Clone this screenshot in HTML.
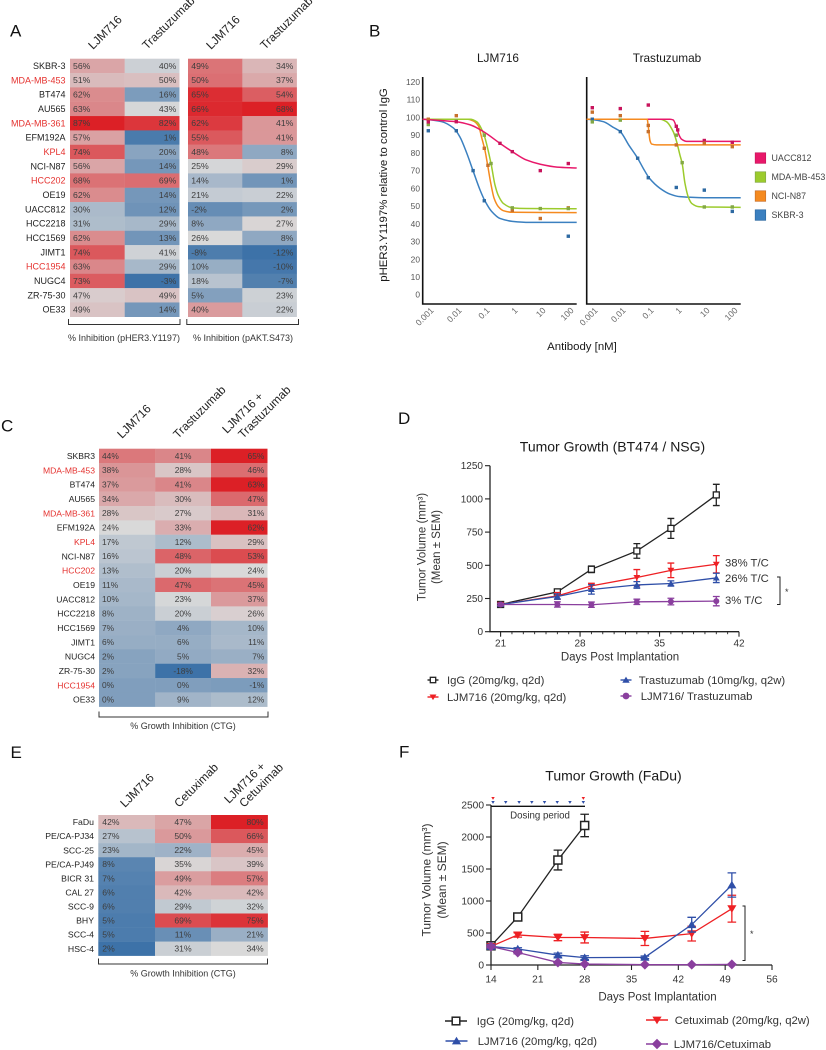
<!DOCTYPE html>
<html lang="en">
<head>
<meta charset="utf-8">
<title>LJM716 and antibody combination figure</title>
<style>
html,body{margin:0;padding:0;background:#fff;width:826px;height:1050px;overflow:hidden}
svg{display:block;font-family:"Liberation Sans",Arial,sans-serif}
text{fill:#222}
.letter{font-size:17px;fill:#111}
.hdr{font-size:11.8px;fill:#222}
.cap{font-size:9px;fill:#333;text-anchor:middle}
.ttl{font-size:11.4px;fill:#1a1a1a;text-anchor:middle}
.big{font-size:14px;fill:#1a1a1a;text-anchor:middle}
.lab{font-size:11.5px;fill:#333;text-anchor:middle}
.leg{font-size:11.3px;fill:#333}
</style>
</head>
<body>
<svg id="figure" xmlns="http://www.w3.org/2000/svg" width="826" height="1050" viewBox="0 0 826 1050">
  <rect width="826" height="1050" fill="#fff"/>

  <text class="letter" x="10" y="36.5">A</text>
  <text class="letter" x="369" y="36.5">B</text>
  <text class="letter" x="1" y="431.5">C</text>
  <text class="letter" x="398" y="424">D</text>
  <text class="letter" x="10.5" y="758">E</text>
  <text class="letter" x="399" y="757.5">F</text>

  <g id="panel-a">
    <text class="hdr" transform="translate(93,50) rotate(-45)">LJM716</text>
    <text class="hdr" transform="translate(147,50) rotate(-45)">Trastuzumab</text>
    <text class="hdr" transform="translate(211,50) rotate(-45)">LJM716</text>
    <text class="hdr" transform="translate(265,50) rotate(-45)">Trastuzumab</text>
    <path d="M68.5 319V324.5H180V319" fill="none" stroke="#333" stroke-width="1"/>
    <path d="M186.8 319V324.5H298.5V319" fill="none" stroke="#333" stroke-width="1"/>
    <text class="cap" x="124" y="340.8">% Inhibition (pHER3.Y1197)</text>
    <text class="cap" x="243" y="340.8">% Inhibition (pAKT.S473)</text>
  </g>

  <g id="panel-b">
    <text class="ttl" x="498" y="62" style="font-size:11.8px">LJM716</text>
    <text class="ttl" x="667" y="62" style="font-size:11.8px">Trastuzumab</text>
    <text class="ttl" transform="translate(387,185) rotate(-90)">pHER3.Y1197% relative to control IgG</text>
    <text class="ttl" x="582" y="350">Antibody [nM]</text>
  </g>

  <g id="panel-c">
    <text class="hdr" transform="translate(122,439) rotate(-45)">LJM716</text>
    <text class="hdr" transform="translate(178,439) rotate(-45)">Trastuzumab</text>
    <text class="hdr" transform="translate(227,434) rotate(-45)">LJM716 +</text>
    <text class="hdr" transform="translate(243,439) rotate(-45)">Trastuzumab</text>
    <path d="M99 711.5V717H268V711.5" fill="none" stroke="#333" stroke-width="1"/>
    <text class="cap" x="183" y="729.2">% Growth Inhibition (CTG)</text>
  </g>

  <g id="panel-d">
    <text class="big" x="612.5" y="451.5">Tumor Growth (BT474 / NSG)</text>
    <text class="lab" transform="translate(425.5,547) rotate(-90)">Tumor Volume (mm³)</text>
    <text class="lab" transform="translate(440,547) rotate(-90)">(Mean ± SEM)</text>
    <text class="lab" x="620" y="660.5">Days Post Implantation</text>
    <text class="leg" x="725" y="566.5">38% T/C</text>
    <text class="leg" x="725" y="582">26% T/C</text>
    <text class="leg" x="725" y="604">3% T/C</text>
    <path d="M777 577H780V604.5H777" fill="none" stroke="#222" stroke-width="1"/>
    <text class="leg" x="785" y="595" style="font-size:9px">*</text>
  </g>

  <g id="panel-e">
    <text class="hdr" transform="translate(125,808) rotate(-45)">LJM716</text>
    <text class="hdr" transform="translate(179,808) rotate(-45)">Cetuximab</text>
    <text class="hdr" transform="translate(229,804) rotate(-45)">LJM716 +</text>
    <text class="hdr" transform="translate(244,808) rotate(-45)">Cetuximab</text>
    <path d="M98.5 958.5V964H267.5V958.5" fill="none" stroke="#333" stroke-width="1"/>
    <text class="cap" x="183" y="976.7">% Growth Inhibition (CTG)</text>
  </g>

  <g id="panel-f">
    <text class="big" x="613.5" y="780.5">Tumor Growth (FaDu)</text>
    <text class="lab" transform="translate(430.5,880) rotate(-90)" style="font-size:12px">Tumor Volume (mm³)</text>
    <text class="lab" transform="translate(446,880) rotate(-90)" style="font-size:12px">(Mean ± SEM)</text>
    <text class="lab" x="657.5" y="1000.5">Days Post Implantation</text>
    <text class="lab" x="540" y="818.5" style="font-size:9.7px">Dosing period</text>
    <path d="M742.5 906H745V960.5H742.5" fill="none" stroke="#222" stroke-width="1"/>
    <text class="leg" x="750" y="937" style="font-size:9px">*</text>
  </g>
</svg>

<script>
/* ---------- Panel A data ---------- */
const panelARows = ['SKBR-3','MDA-MB-453','BT474','AU565','MDA-MB-361','EFM192A','KPL4','NCI-N87','HCC202','OE19','UACC812','HCC2218','HCC1569','JIMT1','HCC1954','NUGC4','ZR-75-30','OE33'];
const panelAHighlighted = ['MDA-MB-453','MDA-MB-361','KPL4','HCC202','HCC1954'];
const panelAHer3Ljm716 = [56,51,62,63,87,57,74,56,68,62,30,31,62,74,63,73,47,49];
const panelAHer3Trastuzumab = [40,50,16,43,82,1,20,14,69,14,12,29,13,41,29,-3,49,14];
const panelAAktLjm716 = [49,50,65,66,62,55,48,25,14,21,-2,8,26,-8,10,18,5,40];
const panelAAktTrastuzumab = [34,37,54,68,41,41,8,29,1,22,2,27,8,-12,-10,-7,23,22];
const panelAHer3Domain = [-3,44,87];
const panelAAktDomain = [-12,26,68];

/* ---------- Panel B data ---------- */
const doseTickLabels = ['0.001','0.01','0.1','1','10','100'];
const doseTickLogs = [-3,-2,-1,0,1,2];
const responseTicks = [0,10,20,30,40,50,60,70,80,90,100,110,120];
const legendCellLines = ['UACC812','MDA-MB-453','NCI-N87','SKBR-3'];

const ljmUaccCurveLog = [-3.2,-3,-2.5,-2,-1.5,-1.03,-0.44,0,0.5,1,1.6,2.3];
const ljmUaccCurveVal = [99,98.8,98.2,97.6,95.8,92,85.4,80.7,76,73.6,72,71.5];
const ljmMdaCurveLog = [-3.2,-2,-1.5,-1.27,-1.03,-0.76,-0.62,-0.5,-0.32,0,0.5,2.3];
const ljmMdaCurveVal = [99,99,99,97.6,91,74,62,56,51.5,49,48.6,48.5];
const ljmNciCurveLog = [-3.2,-2,-1.6,-1.39,-1.2,-1.1,-0.98,-0.89,-0.77,-0.65,-0.5,-0.32,0,2.3];
const ljmNciCurveVal = [99,99,99,98,95,89,81.7,74,63,54.4,49.7,47.4,46.5,46.3];
const ljmSkbrCurveLog = [-3.2,-3,-2.52,-2.1,-1.87,-1.63,-1.39,-1.15,-0.98,-0.74,-0.44,0,0.6,2.3];
const ljmSkbrCurveVal = [99,98.8,97.6,94,89,80,69.4,59,53,47,43,41.4,40.8,40.8];

const traUaccCurveLog = [-3.2,-1,-0.23,-0.11,0,0.1,0.19,0.37,2.3];
const traUaccCurveVal = [99,99,99,98.6,94.8,90,87.7,86.5,86.5];
const traMdaCurveLog = [-3.2,-1,-0.58,-0.35,-0.11,0,0.13,0.21,0.31,0.43,0.55,0.79,1,2.3];
const traMdaCurveVal = [99,99,99,97.6,92,87,78.8,74,62.8,55,51.5,49.7,49.5,49.3];
const traNciCurveLog = [-3.2,-1.04,-1,-0.94,-0.88,-0.7,2.3];
const traNciCurveVal = [99,99,94.8,87,85,84.5,84.5];
const traSkbrCurveLog = [-3.2,-3,-2.6,-2.25,-2,-1.7,-1.38,-1.18,-0.96,-0.58,-0.23,0.13,1,2.3];
const traSkbrCurveVal = [99,98.8,97.6,94.4,92,84.5,77,71.3,65.7,60,56.8,55.3,54.7,54.7];

const ljmUaccDotLog = [-3,-2,-0.44,0,1,2];
const ljmUaccDotVal = [97.5,97.6,85.4,80.7,70,74];
const ljmMdaDotLog = [-3,-2,-1,-0.76,0,1,2];
const ljmMdaDotVal = [96,98,90,74,49,48.6,48.6];
const ljmNciDotLog = [-3,-2,-1,-0.87,0,1,2];
const ljmNciDotVal = [99,101,82.6,73,47.6,43,49];
const ljmSkbrDotLog = [-3,-2,-1.4,-1,2];
const ljmSkbrDotVal = [92.5,92.5,70,53,33];

const traUaccDotLog = [-3,-2,-1,0,0.05,1,2];
const traUaccDotVal = [105.5,105,107,95,93,87,86];
const traMdaDotLog = [-3,-2,0,0.21,1,2];
const traMdaDotVal = [97.5,98.5,90,74.5,49.5,49.5];
const traNciDotLog = [-3,-2,-1,-1,0,1,2];
const traNciDotVal = [103,101,95.5,92,84.5,85.5,83.5];
const traSkbrDotLog = [-3,-2,-1.38,-1,0,1,2];
const traSkbrDotVal = [99,92,77,66,60.5,59,47];

/* ---------- Panel C data ---------- */
const panelCRows = ['SKBR3','MDA-MB-453','BT474','AU565','MDA-MB-361','EFM192A','KPL4','NCI-N87','HCC202','OE19','UACC812','HCC2218','HCC1569','JIMT1','NUGC4','ZR-75-30','HCC1954','OE33'];
const panelCHighlighted = ['MDA-MB-453','MDA-MB-361','KPL4','HCC202','HCC1954'];
const panelCLjm716 = [44,38,37,34,28,24,17,16,13,11,10,8,7,6,2,2,0,0];
const panelCTrastuzumab = [41,28,41,30,27,33,12,48,20,47,23,20,4,6,5,-18,0,9];
const panelCCombo = [65,46,63,47,31,62,29,53,24,45,37,26,10,11,7,32,-1,12];
const panelCDomain = [-18,24,62];

/* ---------- Panel D data ---------- */
const panelDDays = [21,26,29,33,36,40];
const panelDIgg = [205,300,470,608,778,1030];
const panelDIggErr = [10,20,25,55,75,80];
const panelDLjm716 = [205,270,345,408,462,508];
const panelDLjm716Err = [8,25,20,60,55,65];
const panelDTrastuzumab = [205,265,318,352,363,405];
const panelDTrastuzumabErr = [8,20,35,25,20,35];
const panelDCombo = [205,205,203,225,227,230];
const panelDComboErr = [8,20,20,20,25,35];
const panelDYTicks = [0,250,500,750,1000,1250];
const panelDXTicks = [21,28,35,42];
const panelDXMinor = [22,23,24,25,26,27,29,30,31,32,33,34,36,37,38,39,40,41];

/* ---------- Panel E data ---------- */
const panelERows = ['FaDu','PE/CA-PJ34','SCC-25','PE/CA-PJ49','BICR 31','CAL 27','SCC-9','BHY','SCC-4','HSC-4'];
const panelELjm716 = [42,27,23,8,7,6,6,5,5,2];
const panelECetuximab = [47,50,22,35,49,42,29,69,11,31];
const panelECombo = [80,66,45,39,57,42,32,75,21,34];
const panelEDomain = [2,34,80];

/* ---------- Panel F data ---------- */
const panelFIggDays = [14,18,24,28];
const panelFIgg = [300,750,1640,2180];
const panelFIggErr = [30,50,155,175];
const panelFDays = [14,18,24,28,37,44,50];
const panelFLjm716 = [290,250,155,115,120,630,1250];
const panelFLjm716Err = [30,20,30,30,20,115,190];
const panelFCetuximab = [290,470,430,430,415,490,880];
const panelFCetuximabErr = [25,35,50,85,110,115,210];
const panelFCombo = [290,195,40,15,5,5,10];
const panelFComboErr = [20,20,15,10,5,5,5];
const panelFYTicks = [0,500,1000,1500,2000,2500];
const panelFXTicks = [14,21,28,35,42,49,56];
const panelFBlueDoseDays = [14.3,16.2,18.2,20.1,22,23.9,25.8,27.8];
const panelFRedDoseDays = [14.3,27.8];

/* ---------- helpers ---------- */
const SVGNS = 'http://www.w3.org/2000/svg';
function make(tag, parent, props, txt) {
  const n = document.createElementNS(SVGNS, tag);
  for (const k in props) n.setAttribute(k, props[k]);
  if (txt !== undefined) n.textContent = txt;
  parent.appendChild(n);
  return n;
}
function slug(s) { return String(s).toLowerCase().replace(/[^a-z0-9]+/g, '-').replace(/^-|-$/g, ''); }
function scale(d0, d1, r0, r1) { return v => r0 + (v - d0) * (r1 - r0) / (d1 - d0); }

const COOL = [61,114,168], MID = [217,217,217], HOT = [220,32,38];
function heatColor(v, domain) {
  const lo = domain[0], mi = domain[1], hi = domain[2];
  const a = v < mi ? COOL : HOT;
  let t = v < mi ? (mi - v) / (mi - lo) : (v - mi) / (hi - mi);
  t = Math.max(0, Math.min(1, t));
  return 'rgb(' + MID.map((m, i) => Math.round(m + (a[i] - m) * t)).join(',') + ')';
}

function drawHeatmap(group, prefix, rows, highlighted, columns, box) {
  const bandY = scale(0, rows.length, box.top, box.bottom);
  if (box.labelX !== null) {
    rows.forEach((name, r) => {
      const lab = make('text', group, {x: box.labelX, y: bandY(r + 0.5) + 3.1, 'text-anchor': 'end',
        style: 'font-size:' + box.labelSize + 'px;fill:' + (highlighted.includes(name) ? '#e5322f' : '#222')}, name);
      
      
    });
  }
  columns.forEach(col => {
    const colX = scale(0, 1, col.x0, col.x1);
    col.values.forEach((v, r) => {
      const cell = make('rect', group, {x: colX(0), y: bandY(r), width: colX(1) - colX(0) + 0.2, height: bandY(r + 1) - bandY(r) + 0.2, fill: heatColor(v, col.domain)});
      
      
      const anchor = col.align === 'left' ? 'start' : col.align === 'right' ? 'end' : 'middle';
      const tx = col.align === 'left' ? colX(0) + box.pad : col.align === 'right' ? colX(1) - box.pad : colX(0.5);
      const val = make('text', group, {x: tx, y: bandY(r + 0.5) + 3, 'text-anchor': anchor, style: 'font-size:' + box.valueSize + 'px;fill:#3d3d3d'}, v + '%');
      
      
    });
  });
}

function monotonePath(xs, ys) {
  const n = xs.length, dx = [], m = [], t = [];
  for (let i = 0; i < n - 1; i++) { dx[i] = xs[i + 1] - xs[i]; m[i] = (ys[i + 1] - ys[i]) / dx[i]; }
  t[0] = m[0]; t[n - 1] = m[n - 2];
  for (let i = 1; i < n - 1; i++) {
    t[i] = m[i - 1] * m[i] <= 0 ? 0 : 2 * m[i - 1] * m[i] / (m[i - 1] + m[i]);
  }
  let d = 'M' + xs[0].toFixed(2) + ' ' + ys[0].toFixed(2);
  for (let i = 0; i < n - 1; i++) {
    const h = dx[i] / 3;
    d += 'C' + (xs[i] + h).toFixed(2) + ' ' + (ys[i] + t[i] * h).toFixed(2) + ' ' +
      (xs[i + 1] - h).toFixed(2) + ' ' + (ys[i + 1] - t[i + 1] * h).toFixed(2) + ' ' +
      xs[i + 1].toFixed(2) + ' ' + ys[i + 1].toFixed(2);
  }
  return d;
}

function marker(parent, kind, cx, cy, r, color) {
  if (kind === 'square') return make('rect', parent, {x: cx - r, y: cy - r, width: 2 * r, height: 2 * r, fill: '#fff', stroke: color, 'stroke-width': r > 3.5 ? 1.5 : 1.3});
  if (kind === 'circle') return make('circle', parent, {cx: cx, cy: cy, r: r, fill: color});
  if (kind === 'down') return make('path', parent, {d: 'M' + (cx - r * 1.15) + ' ' + (cy - r * 0.85) + 'H' + (cx + r * 1.15) + 'L' + cx + ' ' + (cy + r * 1.05) + 'Z', fill: color});
  if (kind === 'up') return make('path', parent, {d: 'M' + (cx - r * 1.15) + ' ' + (cy + r * 0.85) + 'H' + (cx + r * 1.15) + 'L' + cx + ' ' + (cy - r * 1.05) + 'Z', fill: color});
  return make('path', parent, {d: 'M' + cx + ' ' + (cy - r * 1.25) + 'L' + (cx + r * 1.25) + ' ' + cy + 'L' + cx + ' ' + (cy + r * 1.25) + 'L' + (cx - r * 1.25) + ' ' + cy + 'Z', fill: color});
}

function drawSeries(group, prefix, s, xf, yf, o) {
  const g = make('g', group, {});
  
  
  const line = make('path', g, {d: s.days.map((d, i) => (i ? 'L' : 'M') + xf(d).toFixed(2) + ' ' + yf(s.values[i]).toFixed(2)).join(''), fill: 'none', stroke: s.color, 'stroke-width': o.lineWidth});
  
  
  s.days.forEach((d, i) => {
    const x = xf(d), hi = yf(s.values[i] + s.errors[i]), lo = yf(s.values[i] - s.errors[i]);
    const eb = make('path', g, {d: 'M' + x + ' ' + hi + 'V' + lo + 'M' + (x - o.cap) + ' ' + hi + 'H' + (x + o.cap) + 'M' + (x - o.cap) + ' ' + lo + 'H' + (x + o.cap), fill: 'none', stroke: s.color, 'stroke-width': 1.3});
    
    
  });
  s.days.forEach((d, i) => {
    const mk = marker(g, s.kind, xf(d), yf(s.values[i]), o.size, s.color);
    
    
  });
}

function drawGrowthAxes(group, prefix, xf, yf, xTicks, yTicks, axisX, axisBottom, o) {
  const ax = make('path', group, {d: 'M' + axisX + ' ' + yf(yTicks[yTicks.length - 1]) + 'V' + axisBottom + 'H' + xf(xTicks[xTicks.length - 1]), fill: 'none', stroke: '#222', 'stroke-width': 1.3});
  
  
  yTicks.forEach(v => {
    const t = make('line', group, {x1: axisX - 5, x2: axisX, y1: yf(v), y2: yf(v), stroke: '#222', 'stroke-width': 1.1});
    
    
    const l = make('text', group, {x: axisX - 7, y: yf(v) + 3.5, 'text-anchor': 'end', style: 'font-size:' + o.tickSize + 'px;fill:#333'}, v);
    
    
  });
  xTicks.forEach(v => {
    const t = make('line', group, {x1: xf(v), x2: xf(v), y1: axisBottom, y2: axisBottom + 5, stroke: '#222', 'stroke-width': 1.1});
    
    
    const l = make('text', group, {x: xf(v), y: axisBottom + o.labelDrop, 'text-anchor': 'middle', style: 'font-size:' + o.tickSize + 'px;fill:#333'}, v);
    
    
  });
}

function drawLegendEntry(group, prefix, key, label, kind, color, mx, my, halfLine, size, textX, textY) {
  const g = make('g', group, {});
  
  
  const ln = make('line', g, {x1: mx - halfLine, x2: mx + halfLine, y1: my, y2: my, stroke: color, 'stroke-width': 1.4});
  
  
  const mk = marker(g, kind, mx, my, size, color);
  
  
  const tx = make('text', g, {x: textX, y: textY, class: 'leg'}, label);
  
  
}

/* ---------- Panel A ---------- */
const panelA = document.getElementById('panel-a');
drawHeatmap(panelA, 'her3', panelARows, panelAHighlighted, [
  {key: 'ljm716', values: panelAHer3Ljm716, x0: 70, x1: 124.7, align: 'left', domain: panelAHer3Domain},
  {key: 'trastuzumab', values: panelAHer3Trastuzumab, x0: 124.7, x1: 179.3, align: 'right', domain: panelAHer3Domain}
], {top: 58.7, bottom: 316.8, labelX: 65.5, labelSize: 9, valueSize: 8.7, pad: 3});
drawHeatmap(panelA, 'akt', panelARows, [], [
  {key: 'ljm716', values: panelAAktLjm716, x0: 188, x1: 242.3, align: 'left', domain: panelAAktDomain},
  {key: 'trastuzumab', values: panelAAktTrastuzumab, x0: 242.3, x1: 296.7, align: 'right', domain: panelAAktDomain}
], {top: 58.7, bottom: 316.8, labelX: null, labelSize: 9, valueSize: 8.7, pad: 3.3});

/* ---------- Panel B ---------- */
const panelB = document.getElementById('panel-b');
const respY = scale(0, 120, 294.7, 82);
const bLineColors = {uacc812: '#e8186a', 'mda-mb-453': '#9ccb2c', 'nci-n87': '#f58a1f', 'skbr-3': '#3b80c0'};
const bDotColors = {uacc812: '#c8145c', 'mda-mb-453': '#83a845', 'nci-n87': '#c8702c', 'skbr-3': '#2e6aa2'};

function drawDosePanel(prefix, axisX, doseX, curves) {
  const axes = make('path', panelB, {d: 'M' + axisX + ' 77V304H' + (axisX + 154), fill: 'none', stroke: '#111', 'stroke-width': 1.6});
  
  
  doseTickLogs.forEach((lg, i) => {
    const l = make('text', panelB, {transform: 'translate(' + (doseX(lg) + 6) + ',311) rotate(-45)', 'text-anchor': 'end', style: 'font-size:8.6px;fill:#666'}, doseTickLabels[i]);
    
    
  });
  curves.forEach(c => {
    const cv = make('path', panelB, {d: monotonePath(c.log.map(doseX), c.val.map(respY)), fill: 'none', stroke: bLineColors[c.key], 'stroke-width': 1.5});
    
    
  });
  curves.forEach(c => {
    c.dotLog.forEach((lg, i) => {
      const d = make('rect', panelB, {x: doseX(lg) - 1.7, y: respY(c.dotVal[i]) - 1.7, width: 3.4, height: 3.4, fill: bDotColors[c.key]});
      
      
    });
  });
}
responseTicks.forEach(v => {
  const l = make('text', panelB, {x: 420, y: respY(v) + 3, 'text-anchor': 'end', style: 'font-size:8.4px;fill:#555'}, v);
  
  
});
drawDosePanel('ljm716', 422.7, scale(-3, 2, 428.3, 568.3), [
  {key: 'skbr-3', log: ljmSkbrCurveLog, val: ljmSkbrCurveVal, dotLog: ljmSkbrDotLog, dotVal: ljmSkbrDotVal},
  {key: 'nci-n87', log: ljmNciCurveLog, val: ljmNciCurveVal, dotLog: ljmNciDotLog, dotVal: ljmNciDotVal},
  {key: 'mda-mb-453', log: ljmMdaCurveLog, val: ljmMdaCurveVal, dotLog: ljmMdaDotLog, dotVal: ljmMdaDotVal},
  {key: 'uacc812', log: ljmUaccCurveLog, val: ljmUaccCurveVal, dotLog: ljmUaccDotLog, dotVal: ljmUaccDotVal}
]);
drawDosePanel('trastuzumab', 586.7, scale(-3, 2, 592.3, 732.3), [
  {key: 'skbr-3', log: traSkbrCurveLog, val: traSkbrCurveVal, dotLog: traSkbrDotLog, dotVal: traSkbrDotVal},
  {key: 'mda-mb-453', log: traMdaCurveLog, val: traMdaCurveVal, dotLog: traMdaDotLog, dotVal: traMdaDotVal},
  {key: 'uacc812', log: traUaccCurveLog, val: traUaccCurveVal, dotLog: traUaccDotLog, dotVal: traUaccDotVal},
  {key: 'nci-n87', log: traNciCurveLog, val: traNciCurveVal, dotLog: traNciDotLog, dotVal: traNciDotVal}
]);
legendCellLines.forEach((name, i) => {
  const k = slug(name);
  const cy = 158 + i * 19;
  const sw = make('rect', panelB, {x: 755.2, y: cy - 5.2, width: 10.5, height: 10.5, fill: bLineColors[k], stroke: bDotColors[k], 'stroke-width': 0.7});
  
  
  const tx = make('text', panelB, {x: 771.5, y: cy + 3, style: 'font-size:8.9px;fill:#444'}, name);
  
  
});

/* ---------- Panel C ---------- */
drawHeatmap(document.getElementById('panel-c'), 'ctg', panelCRows, panelCHighlighted, [
  {key: 'ljm716', values: panelCLjm716, x0: 99, x1: 155.2, align: 'left', domain: panelCDomain},
  {key: 'trastuzumab', values: panelCTrastuzumab, x0: 155.2, x1: 211, align: 'center', domain: panelCDomain},
  {key: 'combo', values: panelCCombo, x0: 211, x1: 267.3, align: 'right', domain: panelCDomain}
], {top: 448.7, bottom: 706.7, labelX: 95, labelSize: 8.6, valueSize: 8.4, pad: 3});

/* ---------- Panel D ---------- */
const panelD = document.getElementById('panel-d');
const dX = scale(21, 42, 500.6, 739);
const dY = scale(0, 1250, 631.7, 465.7);
panelDXMinor.forEach(v => {
  const t = make('line', panelD, {x1: dX(v), x2: dX(v), y1: 631.7, y2: 634.2, stroke: '#222', 'stroke-width': 0.9});
  
  
});
drawGrowthAxes(panelD, 'growth', dX, dY, panelDXTicks, panelDYTicks, 490, 631.7, {tickSize: 10, labelDrop: 15});
[
  {key: 'igg', days: panelDDays, values: panelDIgg, errors: panelDIggErr, kind: 'square', color: '#222'},
  {key: 'ljm716', days: panelDDays, values: panelDLjm716, errors: panelDLjm716Err, kind: 'down', color: '#ee2024'},
  {key: 'trastuzumab', days: panelDDays, values: panelDTrastuzumab, errors: panelDTrastuzumabErr, kind: 'up', color: '#2f4fa8'},
  {key: 'combo', days: panelDDays, values: panelDCombo, errors: panelDComboErr, kind: 'circle', color: '#8a3f9e'}
].forEach(s => drawSeries(panelD, 'growth', s, dX, dY, {lineWidth: 1.3, cap: 3.4, size: 3}));
drawLegendEntry(panelD, 'growth', 'igg', 'IgG (20mg/kg, q2d)', 'square', '#222', 433, 680, 5.5, 2.7, 447, 684);
drawLegendEntry(panelD, 'growth', 'ljm716', 'LJM716 (20mg/kg, q2d)', 'down', '#ee2024', 433, 697, 5.5, 3, 447, 701);
drawLegendEntry(panelD, 'growth', 'trastuzumab', 'Trastuzumab (10mg/kg, q2w)', 'up', '#2f4fa8', 626, 680, 5.5, 3.2, 638.7, 684);
drawLegendEntry(panelD, 'growth', 'combo', 'LJM716/ Trastuzumab', 'circle', '#8a3f9e', 626, 696, 5.5, 3.4, 640.7, 700);

/* ---------- Panel E ---------- */
drawHeatmap(document.getElementById('panel-e'), 'ctg', panelERows, [], [
  {key: 'ljm716', values: panelELjm716, x0: 98.3, x1: 155, align: 'left', domain: panelEDomain},
  {key: 'cetuximab', values: panelECetuximab, x0: 155, x1: 211, align: 'center', domain: panelEDomain},
  {key: 'combo', values: panelECombo, x0: 211, x1: 267.7, align: 'right', domain: panelEDomain}
], {top: 815, bottom: 955.7, labelX: 94, labelSize: 8.7, valueSize: 8.6, pad: 4});

/* ---------- Panel F ---------- */
const panelF = document.getElementById('panel-f');
const fX = scale(14, 56, 491, 772);
const fY = scale(0, 2500, 965, 805);
drawGrowthAxes(panelF, 'growth', fX, fY, panelFXTicks, panelFYTicks, 491, 965, {tickSize: 10.2, labelDrop: 17.5});
[
  {key: 'igg', days: panelFIggDays, values: panelFIgg, errors: panelFIggErr, kind: 'square', color: '#222'},
  {key: 'cetuximab', days: panelFDays, values: panelFCetuximab, errors: panelFCetuximabErr, kind: 'down', color: '#ee2024'},
  {key: 'ljm716', days: panelFDays, values: panelFLjm716, errors: panelFLjm716Err, kind: 'up', color: '#2f4fa8'},
  {key: 'combo', days: panelFDays, values: panelFCombo, errors: panelFComboErr, kind: 'diamond', color: '#8a3f9e'}
].forEach(s => drawSeries(panelF, 'growth', s, fX, fY, {lineWidth: 1.3, cap: 4.3, size: 4}));
const dosingLine = make('line', panelF, {x1: 491.5, x2: 585, y1: 806.3, y2: 806.3, stroke: '#111', 'stroke-width': 1.3});


panelFBlueDoseDays.forEach(d => {
  const m = marker(panelF, 'down', fX(d), 802.3, 1.5, '#2f4fa8');
  
  
});
panelFRedDoseDays.forEach(d => {
  const m = marker(panelF, 'down', fX(d), 798.3, 1.5, '#ee2024');
  
  
});
drawLegendEntry(panelF, 'growth', 'igg', 'IgG (20mg/kg, q2d)', 'square', '#222', 456, 1021, 11, 3.8, 476.7, 1025);
drawLegendEntry(panelF, 'growth', 'ljm716', 'LJM716 (20mg/kg, q2d)', 'up', '#2f4fa8', 456.5, 1041, 11, 4, 477.7, 1045);
drawLegendEntry(panelF, 'growth', 'cetuximab', 'Cetuximab (20mg/kg, q2w)', 'down', '#ee2024', 657, 1020, 11, 4, 674.7, 1024);
drawLegendEntry(panelF, 'growth', 'combo', 'LJM716/Cetuximab', 'diamond', '#8a3f9e', 657, 1044, 11, 4.2, 673.7, 1048);
</script>
</body>
</html>
